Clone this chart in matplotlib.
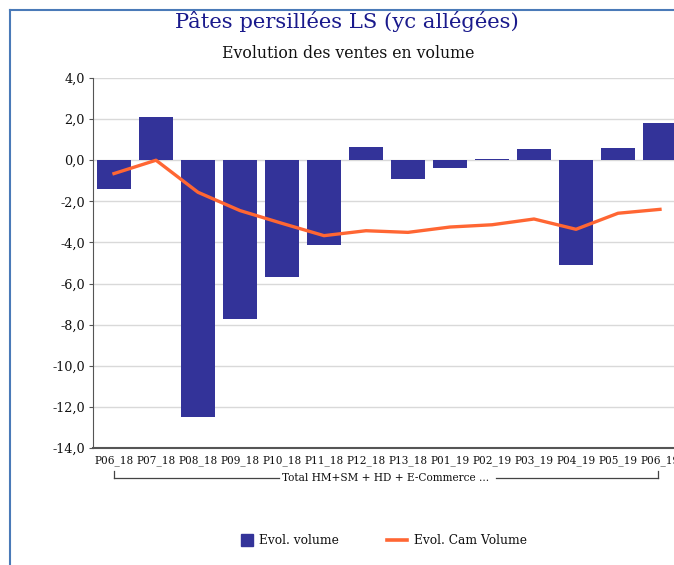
import matplotlib
matplotlib.use("Agg")
import matplotlib.pyplot as plt
from matplotlib.lines import Line2D
from matplotlib.patches import Rectangle
from matplotlib.ticker import FuncFormatter
import matplotlib.transforms as mtransforms

periods = ["P06_18", "P07_18", "P08_18", "P09_18", "P10_18", "P11_18", "P12_18",
           "P13_18", "P01_19", "P02_19", "P03_19", "P04_19", "P05_19", "P06_19"]
evol_volume = [-1.4, 2.1, -12.5, -7.7, -5.7, -4.1, 0.66, -0.9, -0.36, 0.06, 0.55, -5.1, 0.6, 1.8]
evol_cam = [-0.65, 0.0, -1.56, -2.45, -3.07, -3.67, -3.43, -3.51, -3.25, -3.14, -2.86, -3.36, -2.58, -2.39]
group_label = "Total HM+SM + HD + E-Commerce ..."

BAR = "#333399"
LINE = "#FF6633"
plt.rcParams["font.family"] = ["DejaVu Serif"]

fig = plt.figure(figsize=(6.74, 5.65), dpi=100)
ax = fig.add_axes([93 / 674, 1 - 448 / 565, 588 / 674, 370 / 565])

x = list(range(len(periods)))
ax.bar(x, evol_volume, width=0.8, color=BAR, zorder=2)
ax.plot(x, evol_cam, color=LINE, linewidth=2.4, zorder=3, solid_joinstyle="round")

ax.set_xlim(-0.5, len(periods) - 0.5)
ax.set_ylim(-14, 4)
ax.set_yticks(range(-14, 5, 2))
ax.yaxis.set_major_formatter(FuncFormatter(lambda v, p: f"{v:.1f}".replace(".", ",")))
ax.set_xticks(x)
ax.set_xticklabels(periods, fontsize=7.6, color="#111111")
ax.tick_params(axis="x", length=0, pad=5)
ax.tick_params(axis="y", length=3, labelsize=9.2, color="#555555", labelcolor="#111111", pad=3)

ax.grid(axis="y", color="#d9d9d9", linewidth=1, zorder=0)
ax.set_axisbelow(True)
for side in ["top", "right"]:
    ax.spines[side].set_visible(False)
ax.spines["left"].set_color("#555555")
ax.spines["bottom"].set_color("#555555")
ax.spines["bottom"].set_linewidth(1.5)

# group bracket under the category labels
trans = mtransforms.blended_transform_factory(ax.transData, fig.transFigure)
yb = 1 - 478 / 565
yt = 1 - 471 / 565
kw = dict(color="#444444", linewidth=0.9, transform=trans, clip_on=False)
fig.add_artist(Line2D([0, 0], [yb, yt], **kw))
fig.add_artist(Line2D([len(periods) - 1.05, len(periods) - 1.05], [yb, yt], **kw))
fig.add_artist(Line2D([0, 3.93], [yb, yb], **kw))
fig.add_artist(Line2D([9.1, len(periods) - 1.05], [yb, yb], **kw))
fig.text(386 / 674, yb, group_label, ha="center", va="center", fontsize=7.6, color="#111111")

fig.text(347 / 674, 1 - 22 / 565, "Pâtes persillées LS (yc allégées)",
         ha="center", va="center", fontsize=15.2, color="#1a1a8c")
fig.text(348 / 674, 1 - 53 / 565, "Evolution des ventes en volume",
         ha="center", va="center", fontsize=11.3, color="#111111")

# legend
fig.add_artist(Rectangle((241 / 674, 1 - 546 / 565), 12 / 674, 12 / 565,
                         transform=fig.transFigure, color=BAR))
fig.text(259 / 674, 1 - 540 / 565, "Evol. volume", ha="left", va="center", fontsize=8.8, color="#111111")
fig.add_artist(Line2D([387 / 674, 407 / 674], [1 - 540 / 565, 1 - 540 / 565],
                      transform=fig.transFigure, color=LINE, linewidth=2.6))
fig.text(414 / 674, 1 - 540 / 565, "Evol. Cam Volume", ha="left", va="center", fontsize=8.8, color="#111111")

# outer frame (blue border, clipped on right and bottom)
fig.add_artist(Line2D([10 / 674, 10 / 674], [0, 1 - 10 / 565], transform=fig.transFigure,
                      color="#4a7ab8", linewidth=1.5))
fig.add_artist(Line2D([10 / 674, 1], [1 - 10 / 565, 1 - 10 / 565], transform=fig.transFigure,
                      color="#4a7ab8", linewidth=1.5))

fig.savefig("out.png", dpi=100)
